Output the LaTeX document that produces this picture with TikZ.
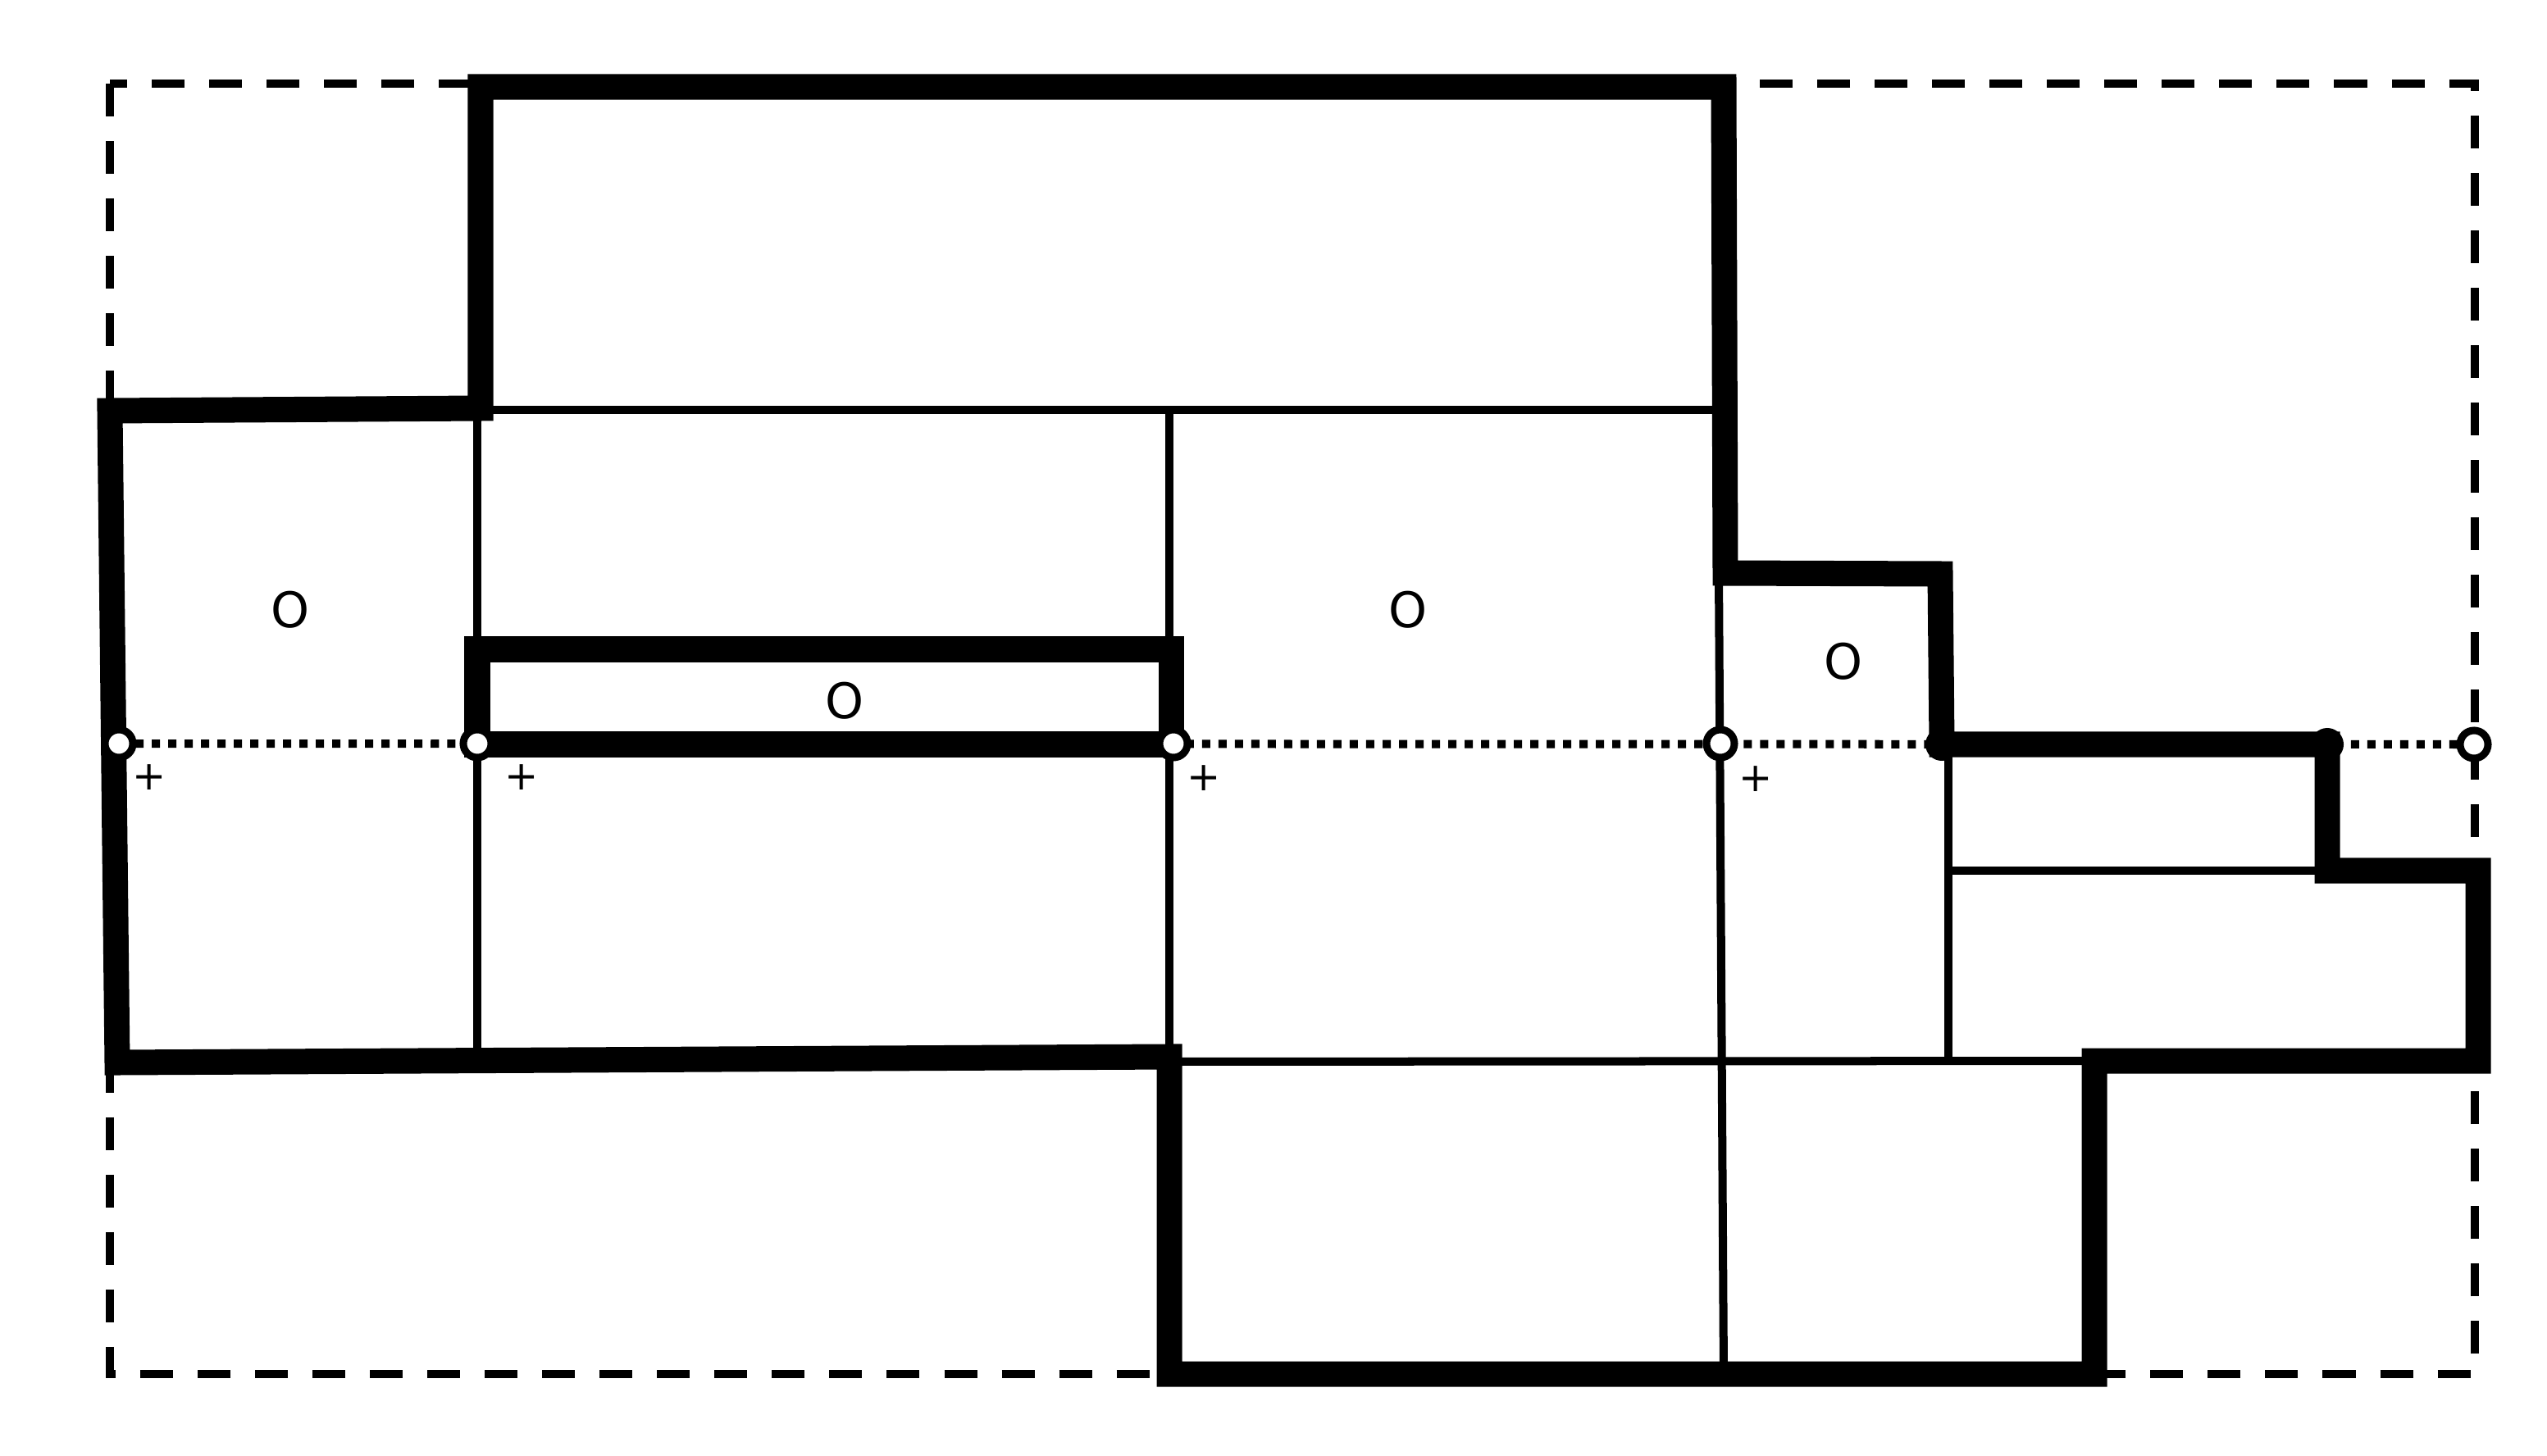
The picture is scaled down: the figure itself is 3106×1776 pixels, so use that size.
\documentclass[tikz,border=0pt]{standalone}
\usepackage{fontspec}
\setmainfont{DejaVu Sans}
\begin{document}
\begin{tikzpicture}[x=0.01cm,y=-0.01cm,
    wall/.style={line width=0.31cm},
    part/.style={line width=0.1cm},
    frame/.style={line width=0.1cm,dash pattern=on 0.4cm off 0.3cm},
    axis/.style={line width=0.1cm,dash pattern=on 0.1cm off 0.1cm},
    room/.style={font=\fontsize{17}{20}\selectfont},
    sign/.style={font=\fontsize{14}{16}\selectfont}]
    \useasboundingbox (0,0) rectangle (3106,1776);

    \draw[frame] (134,102) rectangle (3018,1676);

    % thin partitions
    \draw[part] (586,500) -- (2104,500);
    \draw[part] (582,500) -- (582,1292);
    \draw[part] (1426,500) -- (1426,1289);
    \draw[part] (2096,700) -- (2102,1676);
    \draw[part] (1426,1295) -- (2554,1294);
    \draw[part] (2376,908) -- (2376,1294);
    \draw[part] (2376,1062) -- (2838,1062);

    % axis
    \coordinate (P1) at (145,907);
    \coordinate (P2) at (582,907);
    \coordinate (P3) at (1431,907);
    \coordinate (P4) at (2098,907);
    \coordinate (P5) at (3017,908);
    \coordinate (Q1) at (2368,908);
    \coordinate (Q2) at (2838,908);
    \draw[axis] (P1) -- (P5);

    % outer walls
    \draw[wall] (134,501) -- (586,498) -- (586,106) -- (2102,106) -- (2104,699)
      -- (2366,700) -- (Q1) -- (Q2) -- (2838,1062) -- (3022,1062) -- (3022,1294)
      -- (2554,1294) -- (2554,1676) -- (1426,1676) -- (1426,1289) -- (143,1296) -- cycle;
    \draw[wall] (582,792) -- (1428,792) -- (1428,908) -- (582,908) -- cycle;

    \foreach \i in {1,...,5}
      \draw[line width=0.09cm,fill=white] (P\i) circle (0.17cm);
    \foreach \i in {1,2}
      \fill (Q\i) circle (0.2cm);

    \node[room] (r1) at (354,744) {O};
    \node[room] (r2) at (1030,855) {O};
    \node[room] (r3) at (1717,744) {O};
    \node[room] (r4) at (2248,807) {O};

    \node[sign] (s1) at (182,948) {+};
    \node[sign] (s2) at (636,948) {+};
    \node[sign] (s3) at (1468,949) {+};
    \node[sign] (s4) at (2141,950) {+};
\end{tikzpicture}
\end{document}
